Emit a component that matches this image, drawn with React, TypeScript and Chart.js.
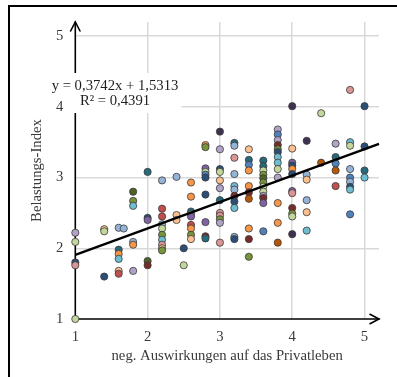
import React, { useEffect, useRef } from "react";
import { Chart, registerables } from "chart.js";

Chart.register(...registerables);

// ---- data ----
const xTicks = [1, 2, 3, 4, 5];
const yTicks = [1, 2, 3, 4, 5];
const axisMin = 1;
const axisMax = 5.2;
const xTitle = "neg. Auswirkungen auf das Privatleben";
const yTitle = "Belastungs-Index";
const slope = 0.3742;
const intercept = 1.5313;
const eqLine1 = "y = 0,3742x + 1,5313";
const eqLine2 = "R² = 0,4391";

const pointX = [
  1, 1, 1, 1, 1,
  1.4, 1.4, 1.4,
  1.6, 1.67, 1.6, 1.6, 1.6, 1.6, 1.6,
  1.8, 1.8, 1.8, 1.8, 1.8, 1.8,
  2, 2, 2, 2, 2,
  2.2, 2.2, 2.2, 2.2, 2.2, 2.2, 2.2, 2.2, 2.2, 2.2,
  2.4, 2.4, 2.4,
  2.5, 2.5,
  2.6, 2.6, 2.6, 2.6, 2.6, 2.6, 2.6, 2.6, 2.6,
  2.8, 2.8, 2.8, 2.8, 2.8, 2.8, 2.8, 2.8, 2.8, 2.8,
  3, 3, 3, 3, 3, 3, 3, 3, 3, 3, 3, 3,
  3.2, 3.2, 3.2, 3.2, 3.2, 3.2, 3.2, 3.2, 3.2, 3.2, 3.2,
  3.4, 3.4, 3.4, 3.4, 3.4, 3.4, 3.4, 3.4, 3.4, 3.4,
  3.6, 3.6, 3.6, 3.6, 3.6, 3.6, 3.6, 3.6, 3.6, 3.6, 3.6, 3.6,
  3.8, 3.8, 3.8, 3.8, 3.8, 3.8, 3.8, 3.8, 3.8, 3.8, 3.8, 3.8, 3.8,
  4, 4, 4, 4, 4, 4, 4, 4, 4, 4, 4, 4,
  4.2, 4.2, 4.2, 4.2, 4.2, 4.2,
  4.4, 4.4,
  4.6, 4.6, 4.6, 4.6, 4.6,
  4.8, 4.8, 4.8, 4.8, 4.8, 4.8, 4.8, 4.8, 4.8,
  5, 5, 5, 5,
];

const pointY = [
  2.22, 2.09, 1.8, 1.76, 1.0,
  2.27, 2.24, 1.6,
  2.29, 2.28, 1.98, 1.92, 1.85, 1.68, 1.64,
  2.8, 2.67, 2.6, 2.09, 2.05, 1.68,
  3.08, 2.43, 2.4, 1.82, 1.76,
  2.96, 2.56, 2.45, 2.34, 2.28, 2.19, 2.12, 2.05, 2.0, 1.97,
  3.01, 2.47, 2.4,
  2.0, 1.76,
  2.93, 2.73, 2.52, 2.48, 2.45, 2.33, 2.28, 2.19, 2.13,
  3.46, 3.43, 3.13, 3.08, 3.04, 3.0, 2.76, 2.37, 2.17, 2.14,
  3.65, 3.4, 3.12, 3.08, 2.96, 2.85, 2.68, 2.5, 2.46, 2.41, 2.36, 2.08,
  3.49, 3.45, 3.28, 3.05, 2.88, 2.83, 2.74, 2.66, 2.57, 2.16, 2.13,
  3.4, 3.25, 3.18, 3.1, 2.88, 2.79, 2.7, 2.28, 2.13, 1.88,
  3.24, 3.16, 3.1, 3.04, 2.99, 2.93, 2.87, 2.8, 2.74, 2.71, 2.64, 2.24,
  3.68, 3.61, 3.53, 3.46, 3.4, 3.36, 3.29, 3.21, 3.12, 3.0, 2.64, 2.36, 2.08,
  4.01, 3.41, 3.21, 3.17, 3.12, 3.05, 2.81, 2.78, 2.57, 2.49, 2.45, 2.2,
  3.52, 3.04, 2.97, 2.68, 2.51, 2.25,
  3.91, 3.21,
  3.48, 3.29, 3.2, 3.1, 2.88,
  4.24, 3.5, 3.45, 3.12, 3.0, 2.94, 2.87, 2.83, 2.48,
  4.01, 3.44, 3.1, 3.0,
];

// ---- styles ----
const palette: Record<string, string> = {
  N: "#2c4d75",
  DN: "#3f3151",
  B: "#4f81bd",
  LB: "#95b3d7",
  T: "#276a7c",
  C: "#6fbdd1",
  O: "#f79646",
  DO: "#b65708",
  PE: "#fac090",
  R: "#c0504d",
  DR: "#772c2a",
  PK: "#d99694",
  G: "#77933c",
  DG: "#4f6228",
  LG: "#c3d69b",
  P: "#8064a2",
  LV: "#b3a2c7",
};

const pointColorKeys = [
  "LV", "LG", "N", "PK", "LG",
  "PE", "LG", "N",
  "LB", "LB", "T", "O", "C", "PE", "R",
  "DG", "G", "C", "LB", "O", "LV",
  "T", "N", "P", "DG", "DR",
  "LB", "R", "R", "LB", "LG", "G", "C", "PK", "PE", "G",
  "LB", "PE", "PE",
  "N", "LG",
  "O", "O", "T", "LG", "P", "R", "O", "G", "PE",
  "O", "G", "P", "LG", "B", "N", "N", "P", "DR", "T",
  "DN", "LV", "N", "LG", "PE", "LV", "T", "PK", "PK", "G", "LV", "PK",
  "T", "LB", "PK", "LB", "C", "LB", "DR", "N", "C", "LB", "N",
  "PE", "T", "B", "O", "O", "DR", "DO", "O", "DR", "G",
  "T", "T", "LG", "G", "DG", "G", "LG", "LG", "LV", "DR", "P", "B",
  "LV", "B", "LV", "DR", "G", "N", "C", "C", "LG", "LV", "O", "O", "DO",
  "DN", "PE", "P", "N", "O", "N", "P", "PK", "DR", "G", "LG", "DN",
  "DN", "LB", "PE", "LB", "PE", "C",
  "LG", "DO",
  "LV", "T", "B", "DO", "R",
  "PK", "C", "LG", "LB", "B", "LB", "N", "C", "B",
  "N", "N", "T", "C",
];

const FONT_FAMILY = "'Liberation Serif', 'Times New Roman', serif";
const FONT_SIZE = 14.7;
const TEXT_COLOR = "#3a3a3a";

const decorPlugin = {
  id: "decor",
  beforeDraw(chart: any) {
    const ctx = chart.ctx;
    ctx.save();
    ctx.fillStyle = "#ffffff";
    ctx.fillRect(0, 0, chart.width, chart.height);
    ctx.strokeStyle = "#000000";
    ctx.lineWidth = 2;
    ctx.beginPath();
    ctx.moveTo(9, chart.height + 2);
    ctx.lineTo(9, 6);
    ctx.lineTo(chart.width + 2, 6);
    ctx.stroke();
    ctx.restore();
  },
  beforeDatasetsDraw(chart: any) {
    const ctx = chart.ctx;
    const xs = chart.scales.x;
    const ys = chart.scales.y;
    const x0 = xs.getPixelForValue(axisMin);
    const x1 = xs.getPixelForValue(axisMax);
    const y0 = ys.getPixelForValue(axisMin);
    const y1 = ys.getPixelForValue(axisMax);
    ctx.save();
    ctx.strokeStyle = "#000000";
    ctx.lineWidth = 1.6;
    ctx.lineCap = "round";
    ctx.beginPath();
    ctx.moveTo(x0, y0);
    ctx.lineTo(x0, y1);
    ctx.moveTo(x0, y0);
    ctx.lineTo(x1, y0);
    ctx.stroke();
    ctx.beginPath();
    ctx.moveTo(x0 - 4.7, y1 + 9);
    ctx.lineTo(x0, y1);
    ctx.lineTo(x0 + 4.7, y1 + 9);
    ctx.moveTo(x1 - 9, y0 - 4.7);
    ctx.lineTo(x1, y0);
    ctx.lineTo(x1 - 9, y0 + 4.7);
    ctx.stroke();
    ctx.restore();
  },
  afterDraw(chart: any) {
    const ctx = chart.ctx;
    ctx.save();
    ctx.font = `${FONT_SIZE}px ${FONT_FAMILY}`;
    const cx = 115;
    const w1 = ctx.measureText(eqLine1).width;
    ctx.fillStyle = "#ffffff";
    ctx.fillRect(cx - w1 / 2 - 3, 73, w1 + 6, 22);
    ctx.fillRect(67, 95, cx + w1 / 2 + 3 - 67, 18);
    ctx.fillStyle = "#1e1e1e";
    ctx.textAlign = "center";
    ctx.textBaseline = "middle";
    ctx.fillText(eqLine1, cx, 86);
    ctx.fillText(eqLine2, cx, 101);
    ctx.restore();
  },
};

export default function App() {
  const canvasRef = useRef<HTMLCanvasElement | null>(null);

  useEffect(() => {
    if (!canvasRef.current) return;
    const colors = pointColorKeys.map((k) => palette[k]);
    const tickFont = { family: FONT_FAMILY, size: FONT_SIZE };
    const gridColor = (c: any) =>
      c.tick && c.tick.value === axisMin ? "rgba(0,0,0,0)" : "#d9d9d9";
    const chart = new Chart(canvasRef.current, {
      type: "scatter",
      data: {
        datasets: [
          {
            type: "line",
            data: [
              { x: axisMin, y: intercept + slope * axisMin },
              { x: axisMax, y: intercept + slope * axisMax },
            ],
            borderColor: "#000000",
            borderWidth: 2.4,
            pointRadius: 0,
            fill: false,
            clip: false,
            order: 0,
          } as any,
          {
            type: "scatter",
            data: pointX.map((x, i) => ({ x, y: pointY[i] })),
            pointRadius: 3.6,
            pointBackgroundColor: colors,
            pointBorderColor: "#3a3a3a",
            pointBorderWidth: 0.8,
            clip: false,
            order: 1,
          } as any,
        ],
      },
      options: {
        animation: false,
        responsive: false,
        devicePixelRatio: 1,
        layout: { padding: { top: 22, right: 18, left: 0, bottom: 0 } },
        plugins: {
          legend: { display: false },
          tooltip: { enabled: false },
        },
        scales: {
          x: {
            type: "linear",
            min: axisMin,
            max: axisMax,
            afterBuildTicks: (s: any) => {
              s.ticks = xTicks.map((v) => ({ value: v }));
            },
            afterFit: (s: any) => {
              s.height = 58;
            },
            border: { display: false },
            grid: { color: gridColor, lineWidth: 1.5, drawTicks: false },
            ticks: {
              padding: 9,
              font: tickFont,
              color: TEXT_COLOR,
              autoSkip: false,
              maxRotation: 0,
            },
            title: {
              display: true,
              text: xTitle,
              font: { family: FONT_FAMILY, size: FONT_SIZE },
              color: TEXT_COLOR,
              padding: { top: 0, bottom: 12.2 },
            },
          },
          y: {
            type: "linear",
            min: axisMin,
            max: axisMax,
            afterBuildTicks: (s: any) => {
              s.ticks = yTicks.map((v) => ({ value: v }));
            },
            afterFit: (s: any) => {
              s.width = 75.3;
            },
            border: { display: false },
            grid: { color: gridColor, lineWidth: 1.5, drawTicks: false },
            ticks: {
              padding: 12,
              font: tickFont,
              color: TEXT_COLOR,
              autoSkip: false,
            },
            title: {
              display: true,
              text: yTitle,
              font: { family: FONT_FAMILY, size: FONT_SIZE },
              color: TEXT_COLOR,
              padding: { top: 28.5, bottom: 0 },
            },
          },
        },
      },
      plugins: [decorPlugin],
    });
    return () => chart.destroy();
  }, []);

  return (
    <div style={{ position: "absolute", left: 0, top: 0, width: 397, height: 377 }}>
      <canvas ref={canvasRef} width={397} height={377} style={{ width: 397, height: 377, display: "block" }} />
    </div>
  );
}
